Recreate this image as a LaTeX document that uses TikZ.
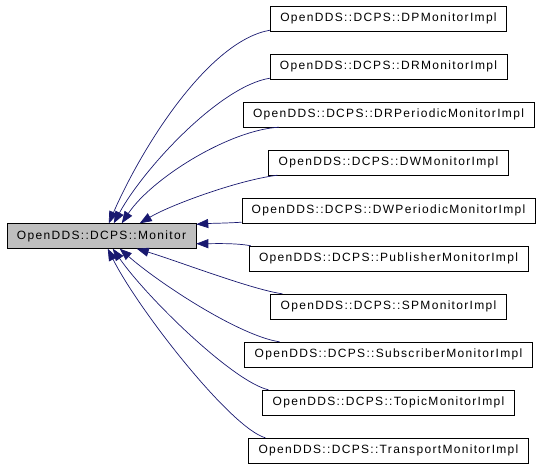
\documentclass[tikz,border=0pt]{standalone}
\usepackage{fontspec}
\newfontfamily\dotfont{Liberation Sans}[LetterSpace=11]
\usetikzlibrary{arrows.meta}
\definecolor{edgeblue}{HTML}{191970}
\definecolor{basegray}{HTML}{BFBFBF}

\begin{document}
\begin{tikzpicture}[x=1pt,y=-1pt,
	cls/.style={draw=black,fill=white,minimum height=25pt,inner xsep=10pt,font=\dotfont\fontsize{12}{14}\selectfont},
	base/.style={cls,fill=basegray},
	inh/.style={draw=edgeblue,line width=0.7pt,{Triangle[length=12pt,width=9pt]}-}]
	\useasboundingbox (0,0) rectangle (539,467);
	\node[base] (mon) at (101.5,236) {OpenDDS::DCPS::Monitor};
	\node[cls] (dp)    at (388.5,18.5) {OpenDDS::DCPS::DPMonitorImpl};
	\node[cls] (dr)    at (388.5,66.5) {OpenDDS::DCPS::DRMonitorImpl};
	\node[cls] (drp)   at (388.5,114.5) {OpenDDS::DCPS::DRPeriodicMonitorImpl};
	\node[cls] (dw)    at (388.5,162.5) {OpenDDS::DCPS::DWMonitorImpl};
	\node[cls] (dwp)   at (388.5,210.5) {OpenDDS::DCPS::DWPeriodicMonitorImpl};
	\node[cls] (pub)   at (388.5,258.5) {OpenDDS::DCPS::PublisherMonitorImpl};
	\node[cls] (sp)    at (388.5,306.5) {OpenDDS::DCPS::SPMonitorImpl};
	\node[cls] (sub)   at (388.5,354.5) {OpenDDS::DCPS::SubscriberMonitorImpl};
	\node[cls] (topic) at (388.5,402.5) {OpenDDS::DCPS::TopicMonitorImpl};
	\node[cls] (trans) at (388.5,450.5) {OpenDDS::DCPS::TransportMonitorImpl};
	% upper children
	\draw[inh] ([xshift=102pt]mon.north west) .. controls +(35,-80) and +(-60,10) .. ([yshift=1pt]dp.south west);
	\draw[inh] ([xshift=107pt]mon.north west) .. controls +(30,-55) and +(-50,8) .. ([yshift=1pt]dr.south west);
	\draw[inh] ([xshift=115pt]mon.north west) .. controls +(30,-45) and +(-50,3) .. ([xshift=36pt]drp.south west);
	\draw[inh] ([xshift=133pt]mon.north west) .. controls +(30,-18) and +(-40,5) .. ([xshift=9pt]dw.south west);
	\draw[inh] ([yshift=-1pt]mon.north east) .. controls +(15,-1) and +(-15,1) .. ([yshift=1pt]dwp.south west);
	\draw[inh] ([yshift=5pt]mon.south east) .. controls +(15,0) and +(-15,-3) .. ([xshift=2pt]pub.north west);
	% lower children
	\draw[inh] ([xshift=130pt]mon.south west) .. controls +(40,12) and +(-30,-4) .. ([xshift=12pt]sp.north west);
	\draw[inh] ([xshift=113pt]mon.south west) .. controls +(40,35) and +(-40,-6) .. ([xshift=35pt]sub.north west);
	\draw[inh] ([xshift=106pt]mon.south west) .. controls +(35,50) and +(-35,-8) .. ([xshift=6pt]topic.north west);
	\draw[inh] ([xshift=101pt]mon.south west) .. controls +(30,60) and +(-35,-10) .. ([xshift=17pt]trans.north west);
\end{tikzpicture}
\end{document}
